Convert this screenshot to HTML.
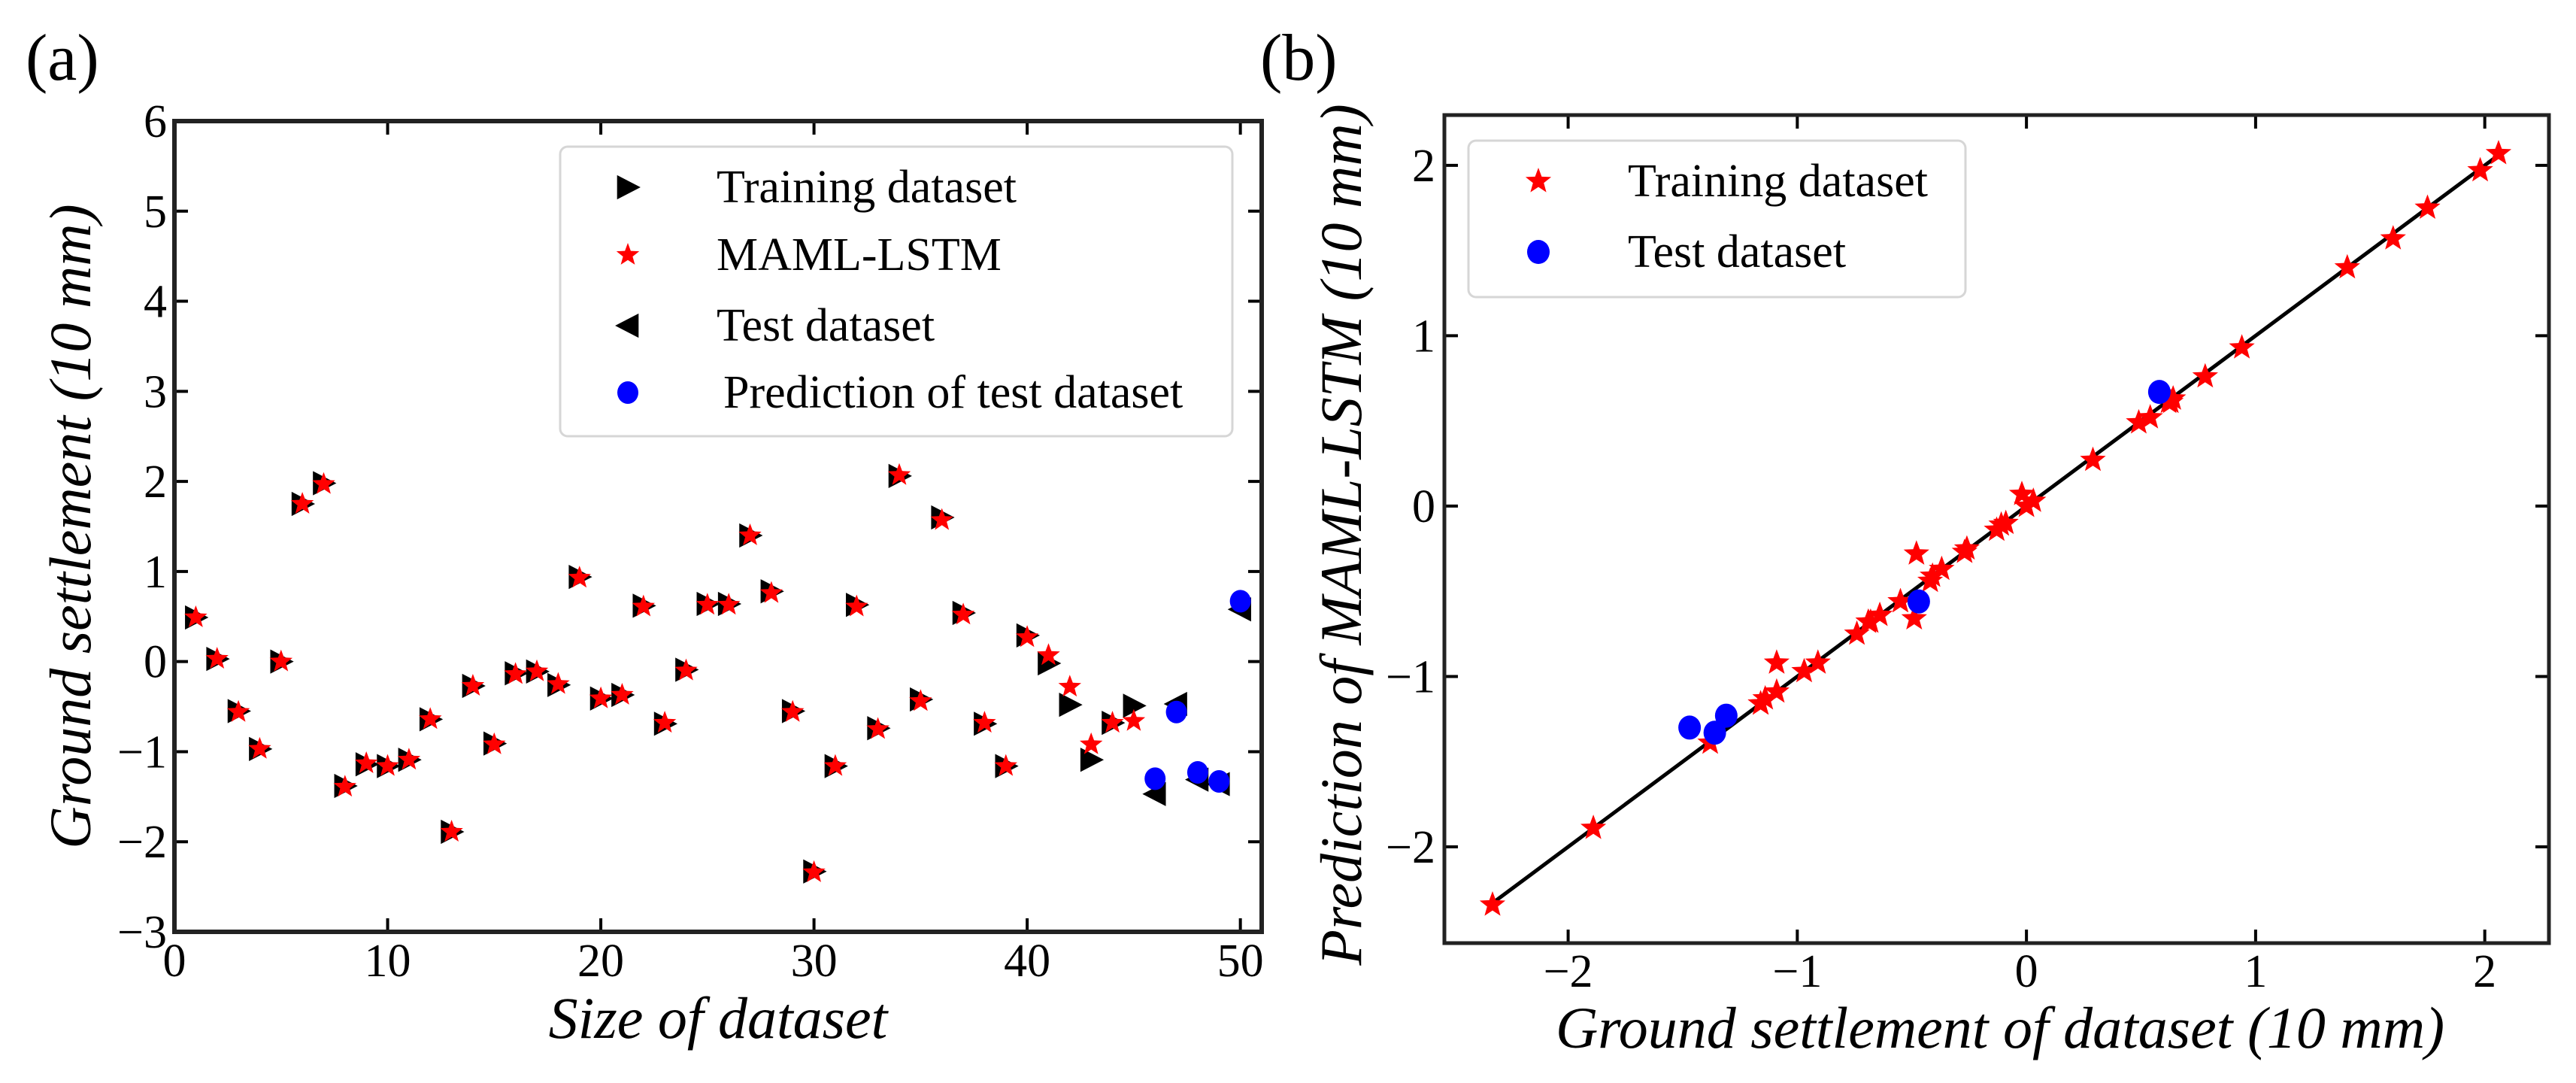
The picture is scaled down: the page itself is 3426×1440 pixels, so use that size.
<!DOCTYPE html>
<html><head><meta charset="utf-8"><style>
html,body{margin:0;padding:0;background:#fff}
svg{display:block}
svg text{font-family:"Liberation Serif","Times New Roman","DejaVu Serif",serif;fill:#000}
</style></head><body>
<svg id="fig" width="3426" height="1440" viewBox="0 0 3426 1440" xmlns="http://www.w3.org/2000/svg" font-family="'Liberation Serif', 'Times New Roman', 'DejaVu Serif', serif">
<text x="34" y="106" font-size="88" font-family="'Liberation Serif', serif">(a)</text>
<text x="1676" y="106" font-size="88" font-family="'Liberation Serif', serif">(b)</text>
<g id="chartA"></g>
<g id="chartB"></g>
</svg>
<script>
// Shared data
const sampleIndexTrain = [1,2,3,4,5,6,7,8,9,10,11,12,13,14,15,16,17,18,19,20,21,22,23,24,25,26,27,28,29,30,31,32,33,34,35,36,37,38,39,40,41,42,43,44,45];
const trainActual = [0.49,0.03,-0.55,-0.97,0.0,1.75,1.98,-1.38,-1.14,-1.16,-1.09,-0.64,-1.89,-0.27,-0.91,-0.13,-0.11,-0.26,0.94,-0.41,-0.37,0.62,-0.69,-0.09,0.64,0.64,1.40,0.78,-0.55,-2.33,-1.16,0.63,-0.74,2.06,-0.42,1.60,0.54,-0.69,-1.16,0.29,-0.02,-0.48,-1.09,-0.68,-0.49];
const trainPred = [0.49,0.03,-0.56,-0.97,0.0,1.75,1.97,-1.39,-1.13,-1.16,-1.09,-0.64,-1.89,-0.27,-0.92,-0.14,-0.11,-0.25,0.93,-0.41,-0.37,0.61,-0.68,-0.10,0.63,0.63,1.40,0.76,-0.56,-2.34,-1.16,0.61,-0.75,2.07,-0.44,1.57,0.52,-0.68,-1.16,0.27,0.07,-0.28,-0.92,-0.68,-0.66];
const sampleIndexTest = [46,47,48,49,50];
const testActual = [-1.47,-0.47,-1.31,-1.36,0.58];
const testPred = [-1.30,-0.56,-1.23,-1.33,0.67];
const ticksAX = [0,10,20,30,40,50];
const ticksAY = [-3,-2,-1,0,1,2,3,4,5,6];
const ticksBX = [-2,-1,0,1,2];
const ticksBY = [-2,-1,0,1,2];

const NS="http://www.w3.org/2000/svg";
const FF="'Liberation Serif', 'Times New Roman', serif";
function mk(tag, attrs, parent){const e=document.createElementNS(NS,tag);for(const k in attrs)e.setAttribute(k,attrs[k]);if(tag==='text')e.setAttribute('font-family',FF);parent.appendChild(e);return e;}
function starPts(cx,cy,R){const r=R*0.42;let p=[];for(let i=0;i<10;i++){const a=-Math.PI/2+i*Math.PI/5;const rr=i%2?r:R;p.push((cx+rr*Math.cos(a)).toFixed(1)+","+(cy+rr*Math.sin(a)).toFixed(1));}return p.join(" ");}
function triR(cx,cy,s){return `${cx-s*0.55},${cy-s*0.62} ${cx+s*0.65},${cy} ${cx-s*0.55},${cy+s*0.62}`;}
function triL(cx,cy,s){return `${cx+s*0.55},${cy-s*0.62} ${cx-s*0.65},${cy} ${cx+s*0.55},${cy+s*0.62}`;}
function fmt(v){return v<0?"\u2212"+Math.abs(v):String(v);}

// ---------- Chart A ----------
(function(){
const g=document.getElementById('chartA');
const L=232,R=1678,T=161,B=1239;
const xmin=0,xmax=51,ymin=-3,ymax=6;
const sx=v=>L+(v-xmin)/(xmax-xmin)*(R-L);
const sy=v=>B-(v-ymin)/(ymax-ymin)*(B-T);
ticksAX.forEach(v=>{
  const t=mk('line',{x1:sx(v),x2:sx(v),y1:B,y2:B-18,stroke:'#000','stroke-width':4},g);
  
  
  const t2=mk('line',{x1:sx(v),x2:sx(v),y1:T,y2:T+18,stroke:'#000','stroke-width':4},g);
  
  
  const lb=mk('text',{x:sx(v),y:1298,'font-size':62,'text-anchor':'middle'},g);lb.textContent=fmt(v);
  
  
});
ticksAY.forEach(v=>{
  const t=mk('line',{x1:L,x2:L+18,y1:sy(v),y2:sy(v),stroke:'#000','stroke-width':4},g);
  
  
  const t2=mk('line',{x1:R,x2:R-18,y1:sy(v),y2:sy(v),stroke:'#000','stroke-width':4},g);
  
  
  const lb=mk('text',{x:222,y:sy(v)+21,'font-size':62,'text-anchor':'end'},g);lb.textContent=fmt(v);
  
  
});
const fr=mk('rect',{x:L,y:T,width:R-L,height:B-T,fill:'none',stroke:'#222','stroke-width':6},g);


sampleIndexTrain.forEach((i,k)=>{
  const p=mk('polygon',{points:triR(sx(i),sy(trainActual[k]),26),fill:'#000'},g);
  
  
});
sampleIndexTrain.forEach((i,k)=>{
  const p=mk('polygon',{points:starPts(sx(i),sy(trainPred[k]),16),fill:'#f00'},g);
  
  
});
sampleIndexTest.forEach((i,k)=>{
  const p=mk('polygon',{points:triL(sx(i),sy(testActual[k]),26),fill:'#000'},g);
  
  
});
sampleIndexTest.forEach((i,k)=>{
  const p=mk('ellipse',{cx:sx(i),cy:sy(testPred[k]),rx:14,ry:15,fill:'#00f'},g);
  
  
});
// legend
const lg=mk('g',{},g);


mk('rect',{x:745,y:195,width:894,height:385,rx:10,fill:'#fff',stroke:'#d6d6d6','stroke-width':3},lg);
const rows=[249,339,433,522];
const labels=['Training dataset','MAML-LSTM','Test dataset','Prediction of test dataset'];
mk('polygon',{points:triR(835,rows[0],26),fill:'#000'},lg);
mk('polygon',{points:starPts(835,rows[1],16),fill:'#f00'},lg);
mk('polygon',{points:triL(835,rows[2],26),fill:'#000'},lg);
mk('ellipse',{cx:835,cy:rows[3],rx:14,ry:15,fill:'#00f'},lg);
labels.forEach((s,k)=>{
  const t=mk('text',{x:k==3?962:953,y:rows[k]+20,'font-size':62},lg);t.textContent=s;
  
  
});
const xt=mk('text',{x:955,y:1380,'font-size':78,'font-style':'italic','text-anchor':'middle'},g);xt.textContent='Size of dataset';


const yt=mk('text',{x:0,y:0,'font-size':78,'font-style':'italic','text-anchor':'middle',transform:'translate(120,700) rotate(-90)'},g);yt.textContent='Ground settlement (10 mm)';


})();

// ---------- Chart B ----------
(function(){
const g=document.getElementById('chartB');
const L=1921,R=3390,T=153,B=1254;
const xmin=-2.54,xmax=2.28,ymin=-2.565,ymax=2.295;
const sx=v=>L+(v-xmin)/(xmax-xmin)*(R-L);
const sy=v=>B-(v-ymin)/(ymax-ymin)*(B-T);
ticksBX.forEach(v=>{
  const t=mk('line',{x1:sx(v),x2:sx(v),y1:B,y2:B-18,stroke:'#000','stroke-width':4},g);
  
  
  const t2=mk('line',{x1:sx(v),x2:sx(v),y1:T,y2:T+18,stroke:'#000','stroke-width':4},g);
  
  
  const lb=mk('text',{x:sx(v),y:1312,'font-size':62,'text-anchor':'middle'},g);lb.textContent=fmt(v);
  
  
});
ticksBY.forEach(v=>{
  const t=mk('line',{x1:L,x2:L+18,y1:sy(v),y2:sy(v),stroke:'#000','stroke-width':4},g);
  
  
  const t2=mk('line',{x1:R,x2:R-18,y1:sy(v),y2:sy(v),stroke:'#000','stroke-width':4},g);
  
  
  const lb=mk('text',{x:1909,y:sy(v)+21,'font-size':62,'text-anchor':'end'},g);lb.textContent=fmt(v);
  
  
});
const fr=mk('rect',{x:L,y:T,width:R-L,height:B-T,fill:'none',stroke:'#222','stroke-width':5},g);


const all=trainActual.concat(testActual);
const lo=Math.min(...all),hi=Math.max(...all);
const ln=mk('line',{x1:sx(lo),y1:sy(lo),x2:sx(hi),y2:sy(hi),stroke:'#000','stroke-width':5},g);


trainActual.forEach((a,k)=>{
  const p=mk('polygon',{points:starPts(sx(a),sy(trainPred[k]),18),fill:'#f00'},g);
  
  
});
testActual.forEach((a,k)=>{
  const p=mk('ellipse',{cx:sx(a),cy:sy(testPred[k]),rx:15,ry:16,fill:'#00f'},g);
  
  
});
const lg=mk('g',{},g);


mk('rect',{x:1953,y:187,width:661,height:208,rx:10,fill:'#fff',stroke:'#d6d6d6','stroke-width':3},lg);
mk('polygon',{points:starPts(2046,241,18),fill:'#f00'},lg);
mk('ellipse',{cx:2046,cy:335,rx:15,ry:16,fill:'#00f'},lg);
const l1=mk('text',{x:2165,y:261,'font-size':62},lg);l1.textContent='Training dataset';


const l2=mk('text',{x:2165,y:355,'font-size':62},lg);l2.textContent='Test dataset';


const xt=mk('text',{x:2660,y:1393,'font-size':78,'font-style':'italic','text-anchor':'middle'},g);xt.textContent='Ground settlement of dataset (10 mm)';


const yt=mk('text',{x:0,y:0,'font-size':78,'font-style':'italic','text-anchor':'middle',transform:'translate(1810,711) rotate(-90)'},g);yt.textContent='Prediction of MAML-LSTM (10 mm)';


})();
</script>
</body></html>
